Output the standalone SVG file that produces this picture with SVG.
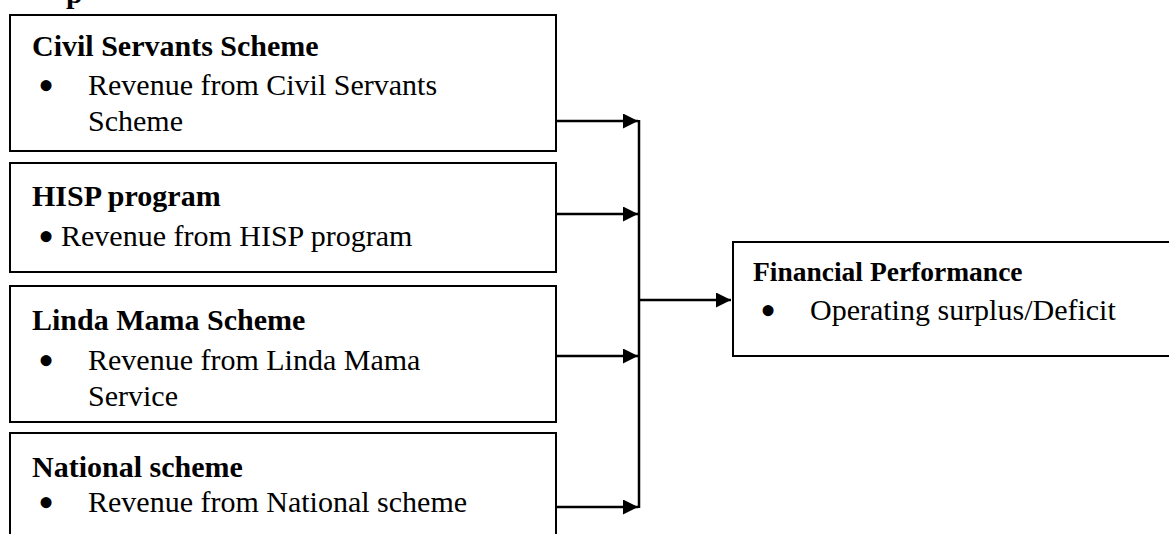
<svg xmlns="http://www.w3.org/2000/svg" width="1169" height="534" viewBox="0 0 1169 534">
<defs>
<style>
.box{fill:#fff;stroke:#000;stroke-width:2}
.h{font-family:"Liberation Serif","Times New Roman",serif;font-weight:bold;font-size:30px;fill:#000}
.t{font-family:"Liberation Serif","Times New Roman",serif;font-size:30px;fill:#000}
.b{font-family:"Liberation Serif","Times New Roman",serif;font-size:46px;fill:#000}
.ln{fill:none;stroke:#000;stroke-width:2.5}
</style>
<marker id="ah" viewBox="0 0 10 10" refX="10" refY="5" markerWidth="7" markerHeight="6" markerUnits="strokeWidth" orient="auto">
<path d="M0,0 L10,5 L0,10 Z" fill="#000"/>
</marker>
</defs>
<rect width="1169" height="534" fill="#fff"/>
<text class="h" x="66" y="3">p</text>
<g id="civil">
<rect class="box" x="10" y="15" width="546" height="136"/>
<text class="h" x="32" y="56">Civil Servants Scheme</text>
<text class="b" x="38" y="101">•</text>
<text class="t" x="88" y="95">Revenue from Civil Servants</text>
<text class="t" x="88" y="131">Scheme</text>
</g>
<g id="hisp">
<rect class="box" x="10" y="163" width="546" height="109"/>
<text class="h" x="32" y="206">HISP program</text>
<text class="b" x="38" y="252">•</text>
<text class="t" x="61" y="246">Revenue from HISP program</text>
</g>
<g id="linda">
<rect class="box" x="10" y="286" width="546" height="136"/>
<text class="h" x="32" y="330">Linda Mama Scheme</text>
<text class="b" x="38" y="376">•</text>
<text class="t" x="88" y="370">Revenue from Linda Mama</text>
<text class="t" x="88" y="406">Service</text>
</g>
<g id="national">
<rect class="box" x="10" y="433" width="546" height="110"/>
<text class="h" x="32" y="477">National scheme</text>
<text class="b" x="38" y="518">•</text>
<text class="t" x="88" y="512">Revenue from National scheme</text>
</g>
<g id="financial">
<rect class="box" x="733" y="242" width="450" height="114"/>
<text class="h" x="753" y="281" style="font-size:27.5px">Financial Performance</text>
<text class="b" x="760" y="326">•</text>
<text class="t" x="810" y="320">Operating surplus/Deficit</text>
</g>
<g id="connectors">
<line class="ln" x1="556" y1="121" x2="638" y2="121" marker-end="url(#ah)"/>
<line class="ln" x1="556" y1="214" x2="638" y2="214" marker-end="url(#ah)"/>
<line class="ln" x1="556" y1="356" x2="638" y2="356" marker-end="url(#ah)"/>
<line class="ln" x1="556" y1="507" x2="638" y2="507" marker-end="url(#ah)"/>
<line class="ln" x1="639" y1="120" x2="639" y2="508"/>
<line class="ln" x1="639" y1="300" x2="731" y2="300" marker-end="url(#ah)"/>
</g>
</svg>
